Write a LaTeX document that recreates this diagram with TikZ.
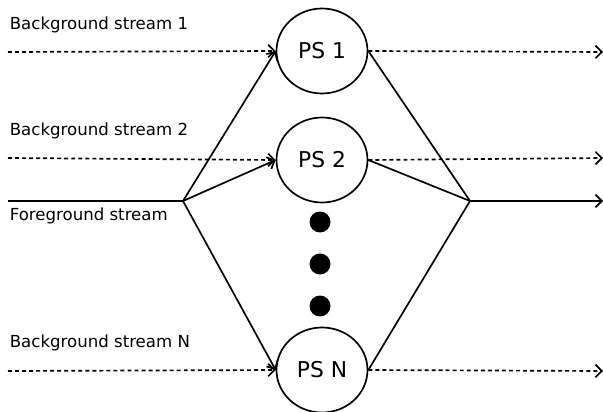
\documentclass[tikz,border=0pt]{standalone}
\usepackage{fontspec}
\setmainfont{DejaVu Sans}
\usetikzlibrary{arrows.meta,positioning,shapes.geometric}

\begin{document}
\begin{tikzpicture}[x=0.025cm, y=-0.025cm, line width=1.2pt,
    psnode/.style={draw, ellipse, minimum width=91*0.025cm, minimum height=85*0.025cm,
                   inner sep=0pt, font=\fontsize{15.5}{18}\selectfont},
    dotnode/.style={fill, circle, minimum size=21*0.025cm, inner sep=0pt},
    streamlabel/.style={anchor=west, inner sep=0pt, font=\fontsize{11.8}{14}\selectfont},
    bgflow/.style={dash pattern=on 2.8pt off 2.2pt, -{Straight Barb[length=4.5pt,width=9pt]}},
    fgflow/.style={-{Straight Barb[length=4.5pt,width=9pt]}}]

    \useasboundingbox (0,0) rectangle (603,412);

    % parallel servers
    \node[psnode] (ps1) at (322,51) {PS 1};
    \node[psnode] (ps2) at (322,160) {PS 2};
    \node[psnode] (psn) at (322,370) {PS N};
    \node[dotnode] (dot1) at (320,222) {};
    \node[dotnode] (dot2) at (320,264) {};
    \node[dotnode] (dot3) at (320,306) {};

    % labels
    \node[streamlabel] (lbl1) at (9,25) {Background stream 1};
    \node[streamlabel] (lbl2) at (9,131) {Background stream 2};
    \node[streamlabel] (lblf) at (9,216) {Foreground stream};
    \node[streamlabel] (lbln) at (9,343) {Background stream N};

    % end points
    \coordinate (in1) at (8,52);
    \coordinate (in2) at (8,158);
    \coordinate (inn) at (8,371);
    \coordinate (out1) at (603,52);
    \coordinate (out2) at (603,158);
    \coordinate (outn) at (603,371);
    \coordinate (fgin) at (8,201);
    \coordinate (split) at (183,201);
    \coordinate (merge) at (470,201);
    \coordinate (fgout) at (603,201);

    % background streams
    \draw[bgflow] (in1) -- (ps1.west);
    \draw[bgflow] (ps1.east) -- (out1);
    \draw[bgflow] (in2) -- (ps2.west);
    \draw[bgflow] (ps2.east) -- (out2);
    \draw[bgflow] (inn) -- (psn.west);
    \draw[bgflow] (psn.east) -- (outn);

    % foreground stream
    \draw (fgin) -- (split);
    \draw[fgflow] (split) -- (ps1.west);
    \draw[fgflow] (split) -- (ps2.west);
    \draw[fgflow] (split) -- (psn.west);
    \draw (ps1.east) -- (merge);
    \draw (ps2.east) -- (merge);
    \draw (psn.east) -- (merge);
    \draw[fgflow] (merge) -- (fgout);
\end{tikzpicture}
\end{document}
